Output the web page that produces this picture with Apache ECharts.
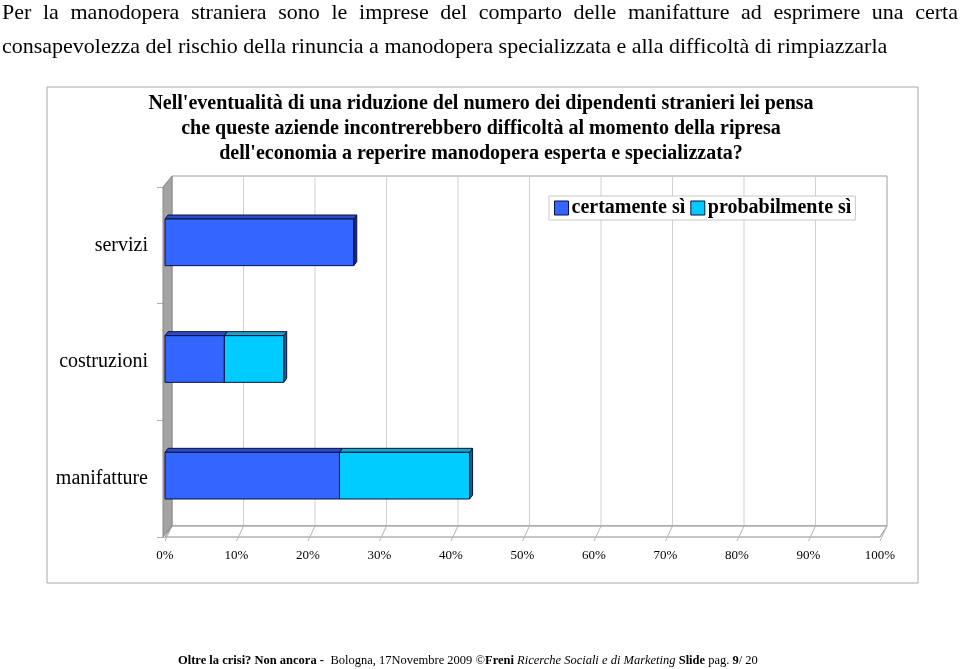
<!DOCTYPE html>
<html>
<head>
<meta charset="utf-8">
<script src="https://cdn.jsdelivr.net/npm/echarts@6/dist/echarts.min.js"></script>
<style>
  html, body { margin: 0; padding: 0; background: #fff; }
  #chart { width: 960px; height: 669px; }
</style>
</head>
<body>
<div id="chart"></div>
<script>
// data
const categories = ['servizi', 'costruzioni', 'manifatture'];
const certamente = [26.4, 8.3, 24.4];
const probabilmente = [0, 8.3, 18.2];
const xTicks = [0, 10, 20, 30, 40, 50, 60, 70, 80, 90, 100];
const seriesNames = ['certamente sì', 'probabilmente sì'];

const headLine1 = 'Per la manodopera straniera sono le imprese del comparto delle manifatture ad esprimere una certa';
const headLine2 = 'consapevolezza del rischio della rinuncia a manodopera specializzata e alla difficoltà di rimpiazzarla';
const chartTitle = [
  "Nell'eventualità di una riduzione del numero dei dipendenti stranieri lei pensa",
  'che queste aziende incontrerebbero difficoltà al momento della ripresa',
  "dell'economia a reperire manodopera esperta e specializzata?"
];

const SERIF = '"Liberation Serif", "DejaVu Serif", serif';
const DEPTH = [7, -11];

const chart = echarts.init(document.getElementById('chart'));

// first headline is justified on the slide: spread its words over the line
function justifiedWords(text, x0, x1, y, size) {
  const ctx = document.createElement('canvas').getContext('2d');
  ctx.font = size + 'px ' + SERIF;
  const words = text.split(' ');
  const widths = words.map(w => ctx.measureText(w).width);
  const total = widths.reduce((a, b) => a + b, 0);
  const gap = (x1 - x0 - total) / (words.length - 1);
  let x = x0;
  return words.map((w, i) => {
    const el = {
      type: 'text', x: x, y: y,
      style: { text: w, font: size + 'px ' + SERIF, fill: '#000', verticalAlign: 'middle' }
    };
    x += widths[i] + gap;
    return el;
  });
}

// 3D frame: side wall, back wall with grid lines, floor
function renderFrame(params, api) {
  const cs = params.coordSys;
  const x0 = cs.x, x1 = cs.x + cs.width, y0 = cs.y, y1 = cs.y + cs.height;
  const [dx, dy] = DEPTH;
  const children = [];
  children.push({
    type: 'rect',
    shape: { x: x0 + dx, y: y0 + dy, width: x1 - x0, height: y1 - y0 },
    style: { fill: '#fff', stroke: '#9a9a9a', lineWidth: 1 }
  });
  xTicks.forEach(v => {
    const px = api.coord([v, 0])[0];
    children.push({
      type: 'line',
      shape: { x1: px + dx, y1: y0 + dy, x2: px + dx, y2: y1 + dy },
      style: { stroke: '#cfcfcf', lineWidth: 1 }
    });
  });
  children.push({
    type: 'polygon',
    shape: { points: [[x0, y1], [x1, y1], [x1 + dx, y1 + dy], [x0 + dx, y1 + dy]] },
    style: { fill: '#fff', stroke: '#8a8a8a', lineWidth: 1 }
  });
  xTicks.forEach(v => {
    const px = api.coord([v, 0])[0];
    children.push({
      type: 'line',
      shape: { x1: px, y1: y1 + 4, x2: px + dx, y2: y1 + dy },
      style: { stroke: '#b5b5b5', lineWidth: 1 }
    });
  });
  children.push({
    type: 'polygon',
    shape: { points: [[x0 - 2, y0], [x0 + dx, y0 + dy], [x0 + dx, y1 + dy], [x0 - 2, y1]] },
    style: { fill: '#a3a3a3', stroke: '#888', lineWidth: 1 }
  });
  return { type: 'group', children };
}

function barRenderer(front, topFace, side) {
  return function (params, api) {
    const len = api.value(0);
    if (!len) return;
    const cat = api.value(1);
    const start = api.value(2);
    const p0 = api.coord([start, cat]);
    const p1 = api.coord([start + len, cat]);
    const h = api.size([0, 1])[1] * 0.4;
    const cy = p0[1] - 3;
    const top = cy - h / 2, bot = cy + h / 2;
    const dx = 3, dy = -4;
    const edge = { stroke: '#0a1040', lineWidth: 1 };
    return {
      type: 'group',
      children: [
        { type: 'polygon', shape: { points: [[p1[0], top], [p1[0] + dx, top + dy], [p1[0] + dx, bot + dy], [p1[0], bot]] },
          style: Object.assign({ fill: side }, edge) },
        { type: 'polygon', shape: { points: [[p0[0], top], [p0[0] + dx, top + dy], [p1[0] + dx, top + dy], [p1[0], top]] },
          style: Object.assign({ fill: topFace }, edge) },
        { type: 'rect', shape: { x: p0[0], y: top, width: p1[0] - p0[0], height: h },
          style: Object.assign({ fill: front }, edge) }
      ]
    };
  };
}

const dataCert = categories.map((c, i) => [certamente[i], i, 0]);
const dataProb = categories.map((c, i) => [probabilmente[i], i, certamente[i]]);

const graphics = [
  { type: 'rect', shape: { x: 47, y: 87, width: 871, height: 496 }, style: { fill: 'none', stroke: '#a8a8a8', lineWidth: 1 }, z: -1 },
  ...justifiedWords(headLine1, 2, 958, 13, 22),
  { type: 'text', x: 2, y: 47, style: { text: headLine2, font: '22px ' + SERIF, fill: '#000', verticalAlign: 'middle' } },
  ...chartTitle.map((t, i) => ({
    type: 'text', x: 481, y: 104 + i * 25,
    style: { text: t, font: 'bold 20px ' + SERIF, fill: '#000', align: 'center', verticalAlign: 'middle' }
  })),
  {
    type: 'text', x: 178, y: 661,
    style: {
      text: '{b|Oltre la crisi? Non ancora - } {r|Bologna, 17Novembre 2009 ©}{b|Freni }{i|Ricerche Sociali e di Marketing }{b|Slide }{r|pag. }{b|9}{r|/ 20}',
      verticalAlign: 'middle',
      rich: {
        b: { fontFamily: SERIF, fontSize: 12.5, fontWeight: 'bold', fill: '#000' },
        r: { fontFamily: SERIF, fontSize: 12.5, fill: '#000' },
        i: { fontFamily: SERIF, fontSize: 12.5, fontStyle: 'italic', fill: '#000' }
      }
    }
  }
];

chart.setOption({
  animation: false,
  backgroundColor: '#fff',
  grid: { left: 165, right: 80, top: 187, bottom: 132 },
  legend: {
    data: seriesNames,
    left: 549, top: 196,
    icon: 'rect',
    itemWidth: 14, itemHeight: 14, itemGap: 5,
    padding: [2, 4, 2, 5],
    backgroundColor: '#fff',
    borderColor: '#c8c8c8', borderWidth: 1,
    itemStyle: { borderColor: '#0a1040', borderWidth: 1 },
    textStyle: { fontFamily: SERIF, fontSize: 20, fontWeight: 'bold', color: '#000', padding: [0, 0, 0, -2] }
  },
  xAxis: {
    type: 'value', min: 0, max: 100, interval: 10,
    axisLine: { show: false }, axisTick: { show: false }, splitLine: { show: false },
    axisLabel: { formatter: '{value}%', margin: 12, fontFamily: SERIF, fontSize: 13, color: '#000' }
  },
  yAxis: {
    type: 'category', data: categories, inverse: true, offset: 2,
    axisLine: { show: false },
    axisTick: { show: true, length: 8, lineStyle: { color: '#b0b0b0' } },
    axisLabel: { margin: 15, fontFamily: SERIF, fontSize: 20, color: '#000' },
    splitLine: { show: false }
  },
  graphic: graphics,
  series: [
    { type: 'custom', name: 'frame', data: [[0, 0]], renderItem: renderFrame, z: 1, silent: true, legendHoverLink: false },
    { type: 'custom', name: seriesNames[0], data: dataCert, encode: { x: [0, 2], y: 1 },
      renderItem: barRenderer('#3366ff', '#2c4cc8', '#1d2f7a'), itemStyle: { color: '#3366ff' }, z: 3 },
    { type: 'custom', name: seriesNames[1], data: dataProb, encode: { x: [0, 2], y: 1 },
      renderItem: barRenderer('#00ccff', '#1aa6c4', '#12667a'), itemStyle: { color: '#00ccff' }, z: 4 }
  ]
});
</script>
</body>
</html>
